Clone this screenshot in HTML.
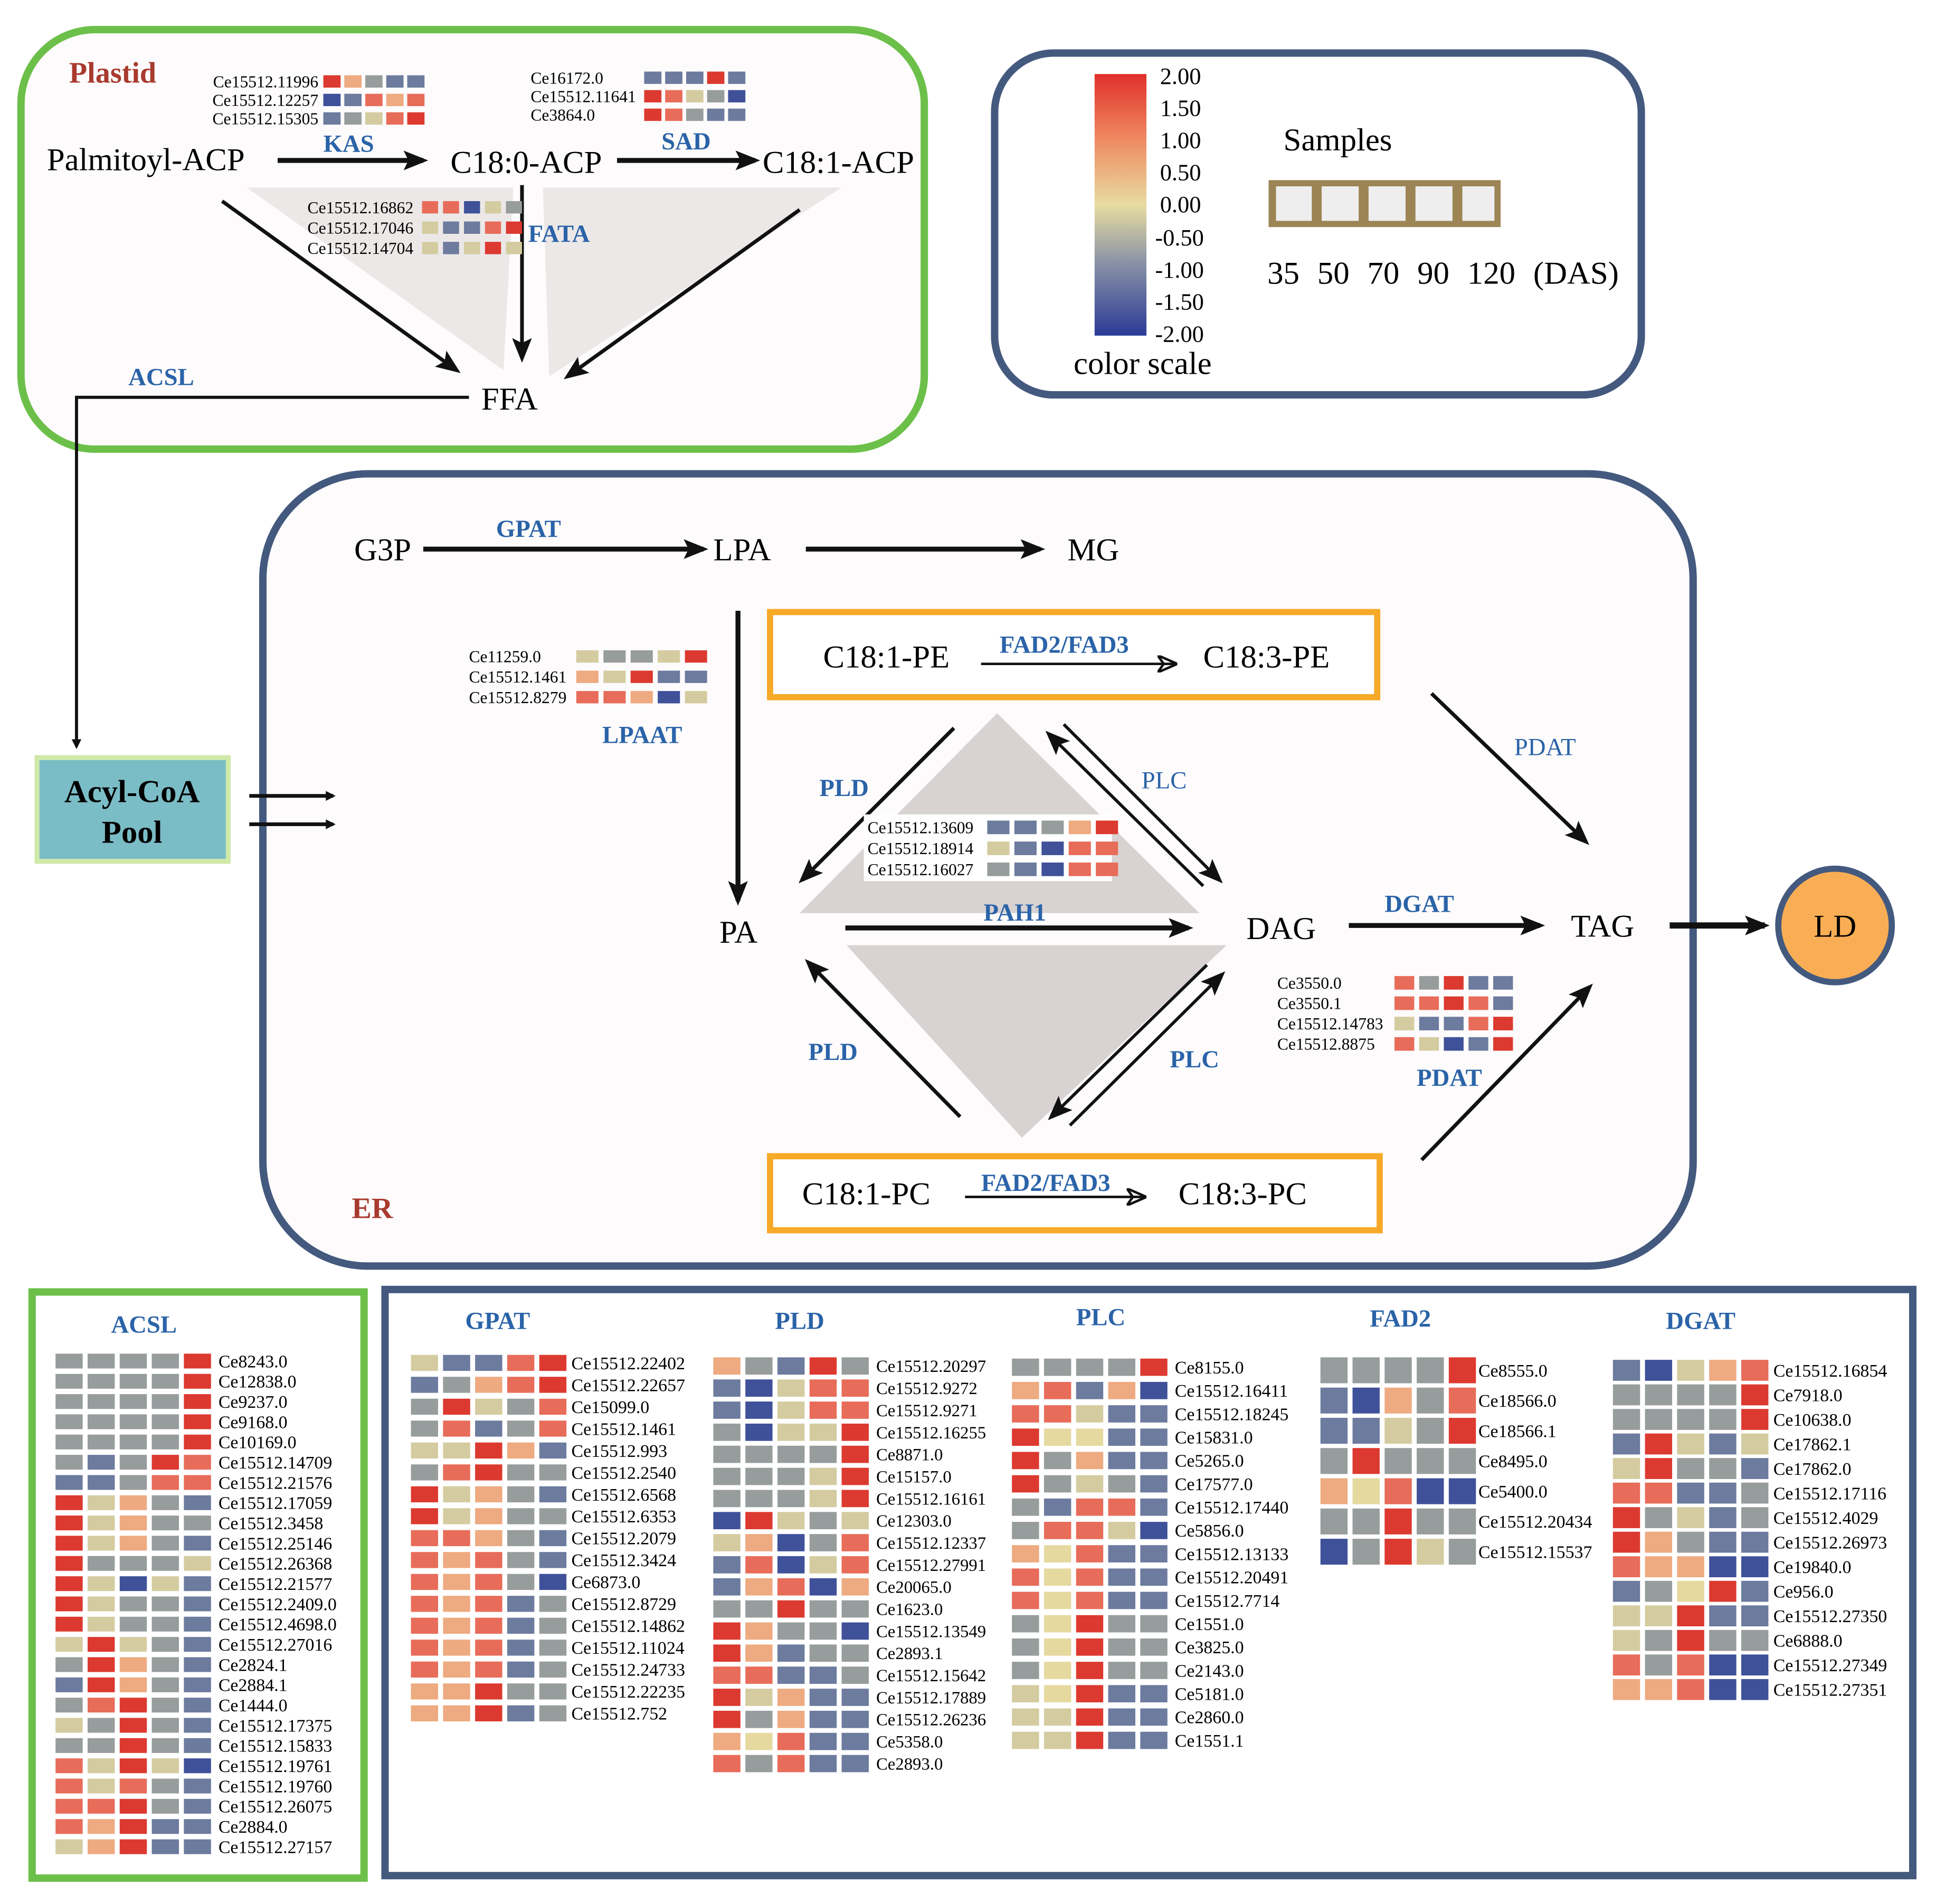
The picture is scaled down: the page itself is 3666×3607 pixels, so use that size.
<!DOCTYPE html>
<html><head><meta charset="utf-8"><style>
html,body{margin:0;padding:0;background:#fff}
svg{display:block}
text{font-family:"Liberation Serif",serif}
</style></head><body>
<svg id="s" width="3666" height="3607" viewBox="0 0 1568 1543" preserveAspectRatio="none" xmlns="http://www.w3.org/2000/svg">
<defs>
<marker id="ah" markerWidth="8" markerHeight="8" refX="6" refY="4" orient="auto" markerUnits="userSpaceOnUse" viewBox="0 0 8 8"><path d="M0,0 L8,4 L0,8 z" fill="#111"/></marker>
<marker id="ahb" markerWidth="20" markerHeight="16" refX="16" refY="8" orient="auto" markerUnits="userSpaceOnUse"><path d="M0,0 L20,8 L0,16 L4,8 z" fill="#111"/></marker>
<marker id="aho" markerWidth="16" markerHeight="14" refX="14" refY="7" orient="auto" markerUnits="userSpaceOnUse"><path d="M0,0 L16,7 L0,14 L5,7 z" fill="none" stroke="#111" stroke-width="2"/></marker>
<linearGradient id="cs" x1="0" y1="0" x2="0" y2="1">
<stop offset="0" stop-color="#e0302a"/><stop offset="0.25" stop-color="#ef8a62"/><stop offset="0.5" stop-color="#e8dca0"/><stop offset="0.72" stop-color="#8a93a6"/><stop offset="1" stop-color="#2b3a96"/></linearGradient>
</defs>
<rect x="0" y="0" width="1568" height="1543" fill="#fff"/>
<rect x="17" y="24" width="732" height="340" rx="60" fill="#fdfbfb" stroke="#6cc04a" stroke-width="6"/>
<rect x="806" y="43" width="524" height="277" rx="48" fill="#fff" stroke="#44597e" stroke-width="6"/>
<rect x="213" y="384" width="1159" height="642" rx="85" fill="#fdfbfb" stroke="#44597e" stroke-width="6"/>
<rect x="26" y="1047" width="269" height="475" fill="#fff" stroke="#6cc04a" stroke-width="6"/>
<rect x="312" y="1045" width="1238" height="475" fill="#fff" stroke="#44597e" stroke-width="6"/>
<polygon points="200,152 416,152 408,300" fill="#ece8e7"/>
<polygon points="440,152 682,152 445,305" fill="#ece8e7"/>
<polygon points="648,740 808,578 972,740" fill="#d8d2d2"/>
<polygon points="686,766 994,766 828,922" fill="#d8d2d2"/>
<rect x="624" y="496" width="492" height="69" fill="#fff" stroke="#f7a928" stroke-width="5"/>
<rect x="624" y="937" width="494" height="60" fill="#fff" stroke="#f7a928" stroke-width="5"/>
<rect x="30" y="614" width="155" height="84" fill="#7bbdc6" stroke="#cfe9a8" stroke-width="4"/>
<text x="107" y="650" font-size="26" font-weight="bold" text-anchor="middle">Acyl-CoA</text>
<text x="107" y="683" font-size="26" font-weight="bold" text-anchor="middle">Pool</text>
<circle cx="1487" cy="750" r="46" fill="#f9ae55" stroke="#44597e" stroke-width="5"/>
<text x="1487" y="759" font-size="26" text-anchor="middle">LD</text>
<rect x="887" y="60" width="42" height="212" fill="url(#cs)"/>
<g font-size="19">
<text x="940" y="68">2.00</text><text x="940" y="94">1.50</text><text x="940" y="120">1.00</text><text x="940" y="146">0.50</text><text x="940" y="172">0.00</text><text x="936" y="199">-0.50</text><text x="936" y="225">-1.00</text><text x="936" y="251">-1.50</text><text x="936" y="277">-2.00</text>
</g>
<text x="870" y="303" font-size="26">color scale</text>
<text x="1040" y="122" font-size="26">Samples</text>
<rect x="1028" y="146" width="188" height="38" fill="#9c8455"/>
<g fill="#eeeeee"><rect x="1034" y="151" width="29" height="28"/><rect x="1071" y="151" width="30" height="28"/><rect x="1109" y="151" width="30" height="28"/><rect x="1147" y="151" width="30" height="28"/><rect x="1185" y="151" width="26" height="28"/></g>
<text x="1027" y="230" font-size="26" word-spacing="8">35 50 70 90 120 (DAS)</text>
<text x="56" y="67" font-size="24" font-weight="bold" fill="#a83a2e">Plastid</text>
<g font-size="26">
<text x="38" y="138">Palmitoyl-ACP</text>
<text x="365" y="140">C18:0-ACP</text>
<text x="618" y="140">C18:1-ACP</text>
<text x="390" y="332">FFA</text>
</g>
<g font-size="20" font-weight="bold" fill="#2a63a8">
<text x="262" y="123">KAS</text><text x="536" y="121">SAD</text><text x="428" y="196">FATA</text><text x="104" y="312">ACSL</text>
<text x="402" y="435">GPAT</text><text x="488" y="602">LPAAT</text><text x="664" y="645">PLD</text><text x="797" y="746">PAH1</text><text x="1122" y="739">DGAT</text><text x="655" y="859">PLD</text><text x="948" y="865">PLC</text><text x="1148" y="880">PDAT</text><text x="810" y="529">FAD2/FAD3</text><text x="795" y="965">FAD2/FAD3</text>
</g>
<g font-size="20" fill="#2a63a8"><text x="925" y="639">PLC</text><text x="1227" y="612">PDAT</text></g>
<g stroke="#111" stroke-width="4" fill="none">
<line x1="225" y1="130" x2="343" y2="130" marker-end="url(#ahb)"/>
<line x1="500" y1="130" x2="612" y2="130" marker-end="url(#ahb)"/>
<line x1="180" y1="163" x2="370" y2="300" stroke-width="3" marker-end="url(#ahb)"/>
<line x1="423" y1="150" x2="423" y2="290" stroke-width="3" marker-end="url(#ahb)"/>
<line x1="648" y1="170" x2="460" y2="305" stroke-width="3" marker-end="url(#ahb)"/>
<polyline points="380,322 62,322 62,605" stroke-width="2.5" marker-end="url(#ah)"/>
<line x1="202" y1="645" x2="270" y2="645" stroke-width="3" marker-end="url(#ah)"/>
<line x1="202" y1="668" x2="270" y2="668" stroke-width="3" marker-end="url(#ah)"/>
<line x1="343" y1="445" x2="570" y2="445" marker-end="url(#ahb)"/>
<line x1="653" y1="445" x2="843" y2="445" marker-end="url(#ahb)"/>
<line x1="598" y1="495" x2="598" y2="730" marker-end="url(#ahb)"/>
<line x1="795" y1="538" x2="952" y2="538" stroke-width="2" marker-end="url(#aho)"/>
<line x1="782" y1="970" x2="927" y2="970" stroke-width="2" marker-end="url(#aho)"/>
<line x1="773" y1="590" x2="650" y2="713" stroke-width="3" marker-end="url(#ahb)"/>
<line x1="862" y1="587" x2="988" y2="713" stroke-width="2.5" marker-end="url(#ahb)"/>
<line x1="975" y1="718" x2="850" y2="595" stroke-width="2.5" marker-end="url(#ahb)"/>
<line x1="685" y1="752" x2="963" y2="752" marker-end="url(#ahb)"/>
<line x1="1093" y1="750" x2="1248" y2="750" marker-end="url(#ahb)"/>
<line x1="1353" y1="750" x2="1430" y2="750" stroke-width="5" marker-end="url(#ahb)"/>
<line x1="1160" y1="562" x2="1285" y2="682" stroke-width="3" marker-end="url(#ahb)"/>
<line x1="1152" y1="940" x2="1288" y2="800" stroke-width="3" marker-end="url(#ahb)"/>
<line x1="778" y1="905" x2="655" y2="780" stroke-width="3" marker-end="url(#ahb)"/>
<line x1="978" y1="782" x2="852" y2="905" stroke-width="2.5" marker-end="url(#ahb)"/>
<line x1="867" y1="912" x2="990" y2="790" stroke-width="2.5" marker-end="url(#ahb)"/>
</g>
<g font-size="26">
<text x="287" y="454">G3P</text><text x="578" y="454">LPA</text><text x="865" y="454">MG</text>
<text x="667" y="541">C18:1-PE</text><text x="975" y="541">C18:3-PE</text>
<text x="583" y="764">PA</text><text x="1010" y="761">DAG</text><text x="1273" y="759">TAG</text>
<text x="650" y="976">C18:1-PC</text><text x="955" y="976">C18:3-PC</text>
</g>
<text x="285" y="987" font-size="24" font-weight="bold" fill="#a83a2e">ER</text>
<rect x="700" y="660" width="201" height="54" fill="#fff"/>
<g font-size="20" font-weight="bold" fill="#2a63a8">
<text x="90" y="1080">ACSL</text><text x="377" y="1077">GPAT</text><text x="628" y="1077">PLD</text><text x="872" y="1074">PLC</text><text x="1110" y="1075">FAD2</text><text x="1350" y="1077">DGAT</text>
</g>
<g id="hm"></g>
</svg>
<script>
var C={R:"#dc3a30",r:"#e86c5a",o:"#eeaa80",y:"#d4cca0",Y:"#e6d9a0",g:"#979d9c",b:"#6c7b9e",B:"#3f5199"};
var g=document.getElementById("hm"),NS="http://www.w3.org/2000/svg";
function hm(x0,y0,px,cw,ch,py,rows,labels,lx,fs,anchor){
 rows.forEach(function(r,i){
  var y=y0+i*py;
  r.split(" ").forEach(function(c,j){var e=document.createElementNS(NS,"rect");e.setAttribute("x",x0+j*px);e.setAttribute("y",y);e.setAttribute("width",cw);e.setAttribute("height",ch);e.setAttribute("fill",C[c]);g.appendChild(e);});
  var t=document.createElementNS(NS,"text");t.setAttribute("x",lx);t.setAttribute("y",y+ch/2+fs*0.35);t.setAttribute("font-size",fs);if(anchor)t.setAttribute("text-anchor",anchor);t.textContent=labels[i];g.appendChild(t);
 });
}
hm(262,61,17,14,10,15,["R o g b b","B b r o r","b g y r R"],["Ce15512.11996","Ce15512.12257","Ce15512.15305"],258,13.5,"end");
hm(522,58,17,14,10,15,["b b b R b","R r y g B","R r g b b"],["Ce16172.0","Ce15512.11641","Ce3864.0"],430,13.5);
hm(342,163,17,13,10,16.5,["r r B y g","y b b r R","y b y R y"],["Ce15512.16862","Ce15512.17046","Ce15512.14704"],335,13.5,"end");
hm(467,527,22,18,10,16.5,["y g g y R","o y R b b","r r o B y"],["Ce11259.0","Ce15512.1461","Ce15512.8279"],380,13.5);
hm(800,665,22,18,11,17,["b b g o R","y b B r r","g b B r r"],["Ce15512.13609","Ce15512.18914","Ce15512.16027"],703,13.5);
hm(1130,791,20,16,11,16.5,["r g R b b","r r R r b","y b b r R","r y B b R"],["Ce3550.0","Ce3550.1","Ce15512.14783","Ce15512.8875"],1035,13.5);
hm(45,1097,26,22,12,16.4,["g g g g R","g g g g R","g g g g R","g g g g R","g g g g R","g b g R r","b b g r r","R y o g b","R y o g g","R y o g b","R g g g y","R y B y b","R y g g b","R y g g b","y R y g b","g R o g b","b R o g b","g r R g b","y g R g b","g g R g b","r y R y B","r y r g b","r r R g b","r o R b b","y o R b b"],["Ce8243.0","Ce12838.0","Ce9237.0","Ce9168.0","Ce10169.0","Ce15512.14709","Ce15512.21576","Ce15512.17059","Ce15512.3458","Ce15512.25146","Ce15512.26368","Ce15512.21577","Ce15512.2409.0","Ce15512.4698.0","Ce15512.27016","Ce2824.1","Ce2884.1","Ce1444.0","Ce15512.17375","Ce15512.15833","Ce15512.19761","Ce15512.19760","Ce15512.26075","Ce2884.0","Ce15512.27157"],177,14.5);
hm(333,1098,26,22,13,17.75,["y b b r R","b g o r R","g R y g r","g r b g r","y y R o b","g r R g g","R y o g b","R y o g g","r r o g b","r o r g b","r o r g B","r o r b g","r o r b g","r o r b g","r o r b g","o o R g g","o o R b g"],["Ce15512.22402","Ce15512.22657","Ce15099.0","Ce15512.1461","Ce15512.993","Ce15512.2540","Ce15512.6568","Ce15512.6353","Ce15512.2079","Ce15512.3424","Ce6873.0","Ce15512.8729","Ce15512.14862","Ce15512.11024","Ce15512.24733","Ce15512.22235","Ce15512.752"],463,14.5);
hm(578,1100,26,22,14,17.9,["o g b R g","b B y r r","b B y r r","g B y y R","g g g g R","g g g y R","g g g y R","B R y g y","y o B g r","b r B y r","b o r B o","g g R g g","R o g g B","R o b g g","r r b b g","R y o b b","R g o b b","o Y r b b","r g r b b"],["Ce15512.20297","Ce15512.9272","Ce15512.9271","Ce15512.16255","Ce8871.0","Ce15157.0","Ce15512.16161","Ce12303.0","Ce15512.12337","Ce15512.27991","Ce20065.0","Ce1623.0","Ce15512.13549","Ce2893.1","Ce15512.15642","Ce15512.17889","Ce15512.26236","Ce5358.0","Ce2893.0"],710,14);
hm(820,1101,26,22,14,18.9,["g g g g R","o r b o B","r r y b b","R Y Y b b","R g o b b","R g y g b","g b r r b","g r r y B","o Y r b b","r Y r b b","r Y r b b","g Y R g g","g Y R g g","g Y R g g","y Y R b b","y y R b b","y y R b b"],["Ce8155.0","Ce15512.16411","Ce15512.18245","Ce15831.0","Ce5265.0","Ce17577.0","Ce15512.17440","Ce5856.0","Ce15512.13133","Ce15512.20491","Ce15512.7714","Ce1551.0","Ce3825.0","Ce2143.0","Ce5181.0","Ce2860.0","Ce1551.1"],952,14.5);
hm(1070,1100,26,22,21,24.5,["g g g g R","b B o g r","b b y g R","g R g g g","o Y r B B","g g R g g","B g R y g"],["Ce8555.0","Ce18566.0","Ce18566.1","Ce8495.0","Ce5400.0","Ce15512.20434","Ce15512.15537"],1198,14.5);
hm(1307,1102,26,22,17,19.9,["b B y o r","g g g g R","g g g g R","b R y b y","y R g g b","r r b b g","R g y b g","R o g b b","r o o B B","b g Y R b","y y R b b","y g R g g","r g r B B","o o r B B"],["Ce15512.16854","Ce7918.0","Ce10638.0","Ce17862.1","Ce17862.0","Ce15512.17116","Ce15512.4029","Ce15512.26973","Ce19840.0","Ce956.0","Ce15512.27350","Ce6888.0","Ce15512.27349","Ce15512.27351"],1437,14.5);
</script>
</body></html>
